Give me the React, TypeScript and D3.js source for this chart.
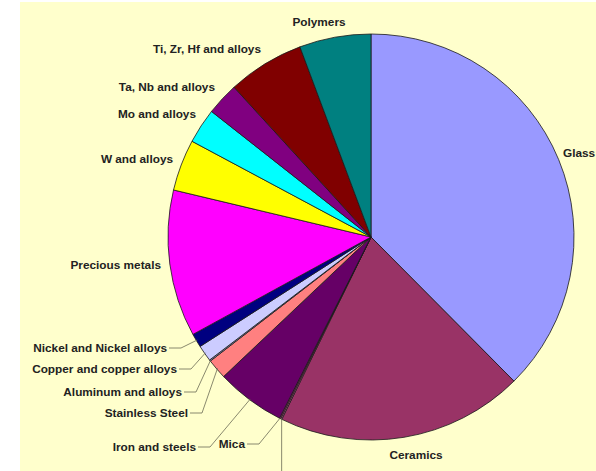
import React from "react";
import * as d3 from "d3";

const categories = [
  "Glass",
  "Ceramics",
  "Other",
  "Mica",
  "Iron and steels",
  "Stainless Steel",
  "Aluminum and alloys",
  "Copper and copper alloys",
  "Nickel and Nickel alloys",
  "Precious metals",
  "W and alloys",
  "Mo and alloys",
  "Ta, Nb and alloys",
  "Ti, Zr, Hf and alloys",
  "Polymers",
];
const values = [37.6, 19.7, 0.1, 0.1, 5.5, 1.6, 0.1, 1.3, 1.1, 11.7, 4.1, 2.8, 2.6, 6.1, 5.7];
const colors = [
  "#9999FF", "#993366", "#CC6699", "#993366", "#660066", "#FF8080", "#9999CC",
  "#CCCCFF", "#000080", "#FF00FF", "#FFFF00", "#00FFFF", "#800080", "#800000", "#008080",
];
// the "Other" label lies below the visible area in the reference; only its leader is seen
const showLabel = [true, true, false, true, true, true, true, true, true, true, true, true, true, true, true];

// label layout: [x, y(baseline), anchor, leader?]
const labelLayout: [number, number, string, boolean][] = [
  [563, 157, "start", false],
  [416, 459, "middle", false],
  [277, 490, "middle", true],
  [245, 448, "end", true],
  [196, 451, "end", true],
  [188, 417, "end", true],
  [182, 396, "end", true],
  [177, 373, "end", true],
  [167, 352, "end", true],
  [161, 269, "end", false],
  [173, 163, "end", false],
  [196, 118, "end", false],
  [215, 91, "end", false],
  [261, 53, "end", false],
  [319, 26, "middle", false],
];

const W = 596;
const H = 471;
const cx = 371;
const cy = 237;
const R = 203;

export default function App() {
  const data = categories.map((c, i) => ({ name: c, value: values[i], color: colors[i] }));
  const pie = d3.pie<any>().sort(null).value((d) => d.value);
  const arcs = pie(data);
  const arc = d3.arc<any>().innerRadius(0).outerRadius(R);

  const rimPoint = (a: any, r: number) => {
    const ang = (a.startAngle + a.endAngle) / 2;
    return [cx + r * Math.sin(ang), cy - r * Math.cos(ang)];
  };

  return (
    <svg width={W} height={H} style={{ position: "absolute", left: 0, top: 0 }}>
      <rect x={0} y={0} width={W} height={H} fill="#ffffff" />
      <rect x={20} y={2} width={W - 20} height={H - 2} fill="#FFFFCC" />
      <g transform={`translate(${cx},${cy})`}>
        {arcs.map((a, i) => (
          <path key={i} d={arc(a) as string} fill={a.data.color} stroke="#1a1a1a" strokeWidth={0.8} />
        ))}
      </g>
      {arcs.map((a, i) => {
        const [lx, ly, anchor, leader] = labelLayout[i];
        if (!leader) return null;
        const [px, py] = rimPoint(a, R - 1);
        let pts: number[][];
        if (anchor === "middle") {
          pts = [[px, py], [px, H + 5]];
        } else {
          const sx = lx + 2;
          const sy = ly - 4;
          pts = [[sx, sy], [sx + 12, sy], [px, py]];
        }
        return (
          <polyline
            key={"l" + i}
            points={pts.map((p) => p.join(",")).join(" ")}
            fill="none"
            stroke="#6b6b55"
            strokeWidth={0.8}
          />
        );
      })}
      {arcs.map((a, i) => {
        if (!showLabel[i]) return null;
        const [lx, ly, anchor] = labelLayout[i];
        return (
          <text
            key={"t" + i}
            x={lx}
            y={ly}
            textAnchor={anchor as any}
            fontFamily="'Liberation Sans', Arial, sans-serif"
            fontWeight="bold"
            fontSize={11.8}
            fill="#222"
          >
            {a.data.name}
          </text>
        );
      })}
    </svg>
  );
}
